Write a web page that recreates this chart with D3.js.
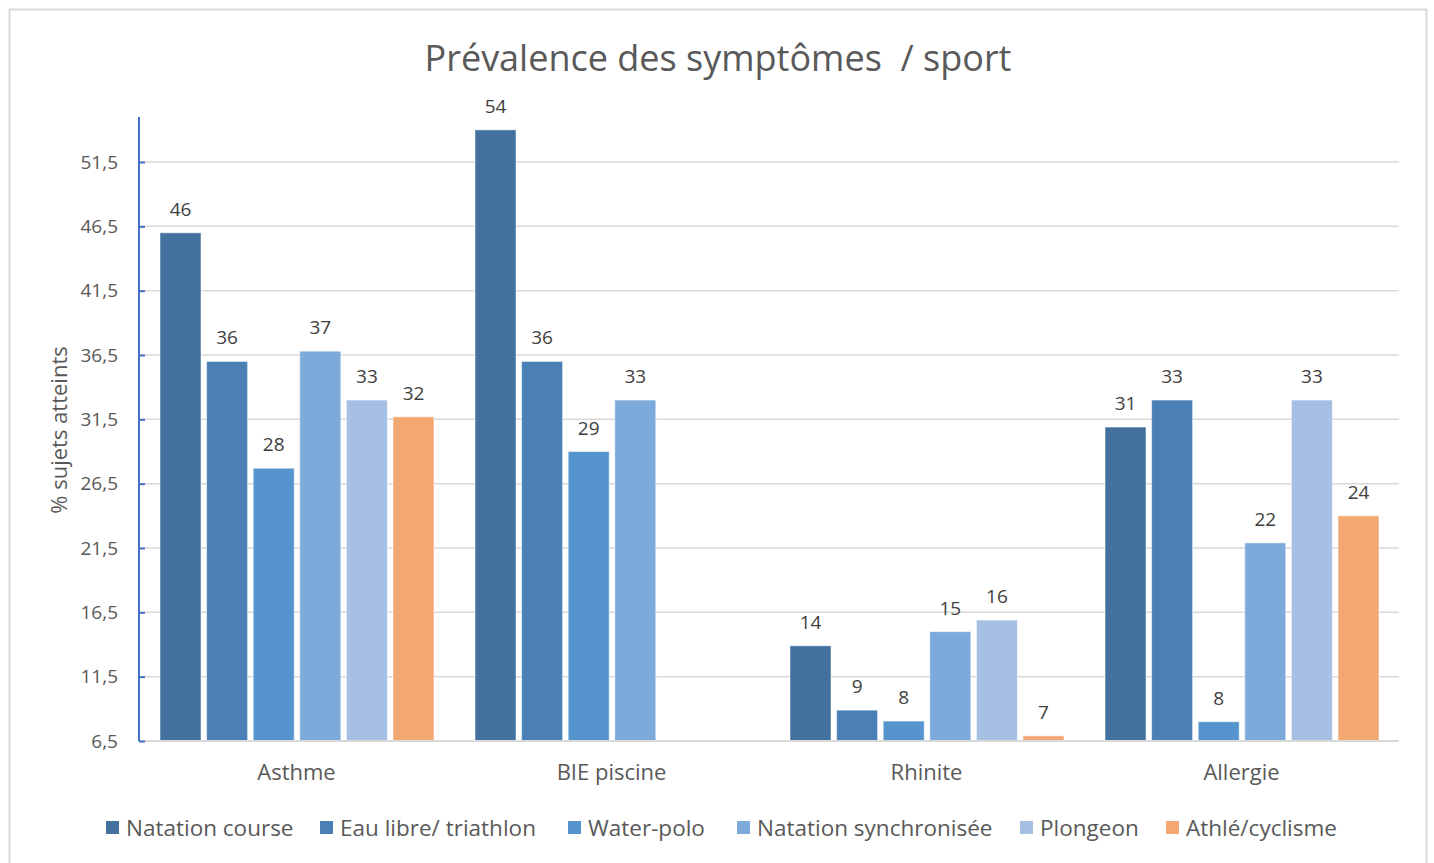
<!DOCTYPE html>
<html>
<head>
<meta charset="utf-8">
<script src="https://cdn.jsdelivr.net/npm/d3@7"></script>
<style>
  body { margin: 0; background: #fff; }
  text { font-family: "Open Sans", "Noto Sans", sans-serif; }
</style>
</head>
<body>
<div id="chart"></div>
<script>
// Categories and series
var categories = ["Asthme", "BIE piscine", "Rhinite", "Allergie"];
var series = ["Natation course", "Eau libre/ triathlon", "Water-polo", "Natation synchronisée", "Plongeon", "Athlé/cyclisme"];
var colors = ["#42719f", "#4a80b6", "#5594cd", "#7caadb", "#a6c0e4", "#f3a874"];

// values per series, in category order (null = no bar)
var natationCourse = [46, 54, 13.9, 30.9];
var eauLibre = [36, 36, 8.9, 33];
var waterPolo = [27.7, 29, 8.05, 8];
var natationSynchro = [36.8, 33, 15, 21.9];
var plongeon = [33, null, 15.9, 33];
var athle = [31.7, null, 6.9, 24];
var values = [natationCourse, eauLibre, waterPolo, natationSynchro, plongeon, athle];

var yTicks = [6.5, 11.5, 16.5, 21.5, 26.5, 31.5, 36.5, 41.5, 46.5, 51.5];

var W = 1434, H = 863;
var margin = { top: 117, right: 35, bottom: 122, left: 139 };
var width = W - margin.left - margin.right;
var height = H - margin.top - margin.bottom;

var svg = d3.select("#chart").append("svg")
  .attr("width", W)
  .attr("height", H);

// outer chart frame
svg.append("rect")
  .attr("x", 9.5).attr("y", 9.5)
  .attr("width", 1417).attr("height", 870)
  .attr("fill", "#fff")
  .attr("stroke", "#d9d9d9")
  .attr("stroke-width", 2);

svg.append("text")
  .attr("x", 718).attr("y", 71)
  .attr("text-anchor", "middle")
  .style("font-size", "36px")
  .style("fill", "#595959")
  .attr("xml:space", "preserve")
  .text("Prévalence des symptômes  / sport");

var g = svg.append("g")
  .attr("transform", "translate(" + margin.left + "," + margin.top + ")");

var x0 = d3.scaleBand().domain(categories).range([0, width]).padding(0);
var x1 = d3.scaleBand().domain(d3.range(series.length))
  .range([21, x0.bandwidth() - 20]).paddingInner(0.12).paddingOuter(0);
var y = d3.scaleLinear().domain([6.5, 55]).range([height, 0]);

// gridlines
g.append("g").selectAll("line")
  .data(yTicks.slice(1))
  .enter().append("line")
  .attr("x1", 0).attr("x2", width)
  .attr("y1", function (d) { return y(d); })
  .attr("y2", function (d) { return y(d); })
  .attr("stroke", "#d9d9d9")
  .attr("stroke-width", 1.5);

// bars
var groups = g.selectAll(".cat")
  .data(categories)
  .enter().append("g")
  .attr("class", "cat")
  .attr("transform", function (d) { return "translate(" + x0(d) + ",0)"; });

function cells(d, ci) {
  return values.map(function (s, si) { return { si: si, v: s[ci] }; })
    .filter(function (e) { return e.v !== null; });
}

groups.selectAll("rect")
  .data(cells)
  .enter().append("rect")
  .attr("x", function (d) { return x1(d.si); })
  .attr("y", function (d) { return y(d.v); })
  .attr("width", x1.bandwidth())
  .attr("height", function (d) { return height - y(d.v); })
  .attr("fill", function (d) { return colors[d.si]; })
  .attr("stroke", "#fff")
  .attr("stroke-opacity", 0.5)
  .attr("stroke-width", 1);

groups.selectAll(".lbl")
  .data(cells)
  .enter().append("text")
  .attr("class", "lbl")
  .attr("x", function (d) { return x1(d.si) + x1.bandwidth() / 2; })
  .attr("y", function (d) { return y(d.v) - 17; })
  .attr("text-anchor", "middle")
  .style("font-size", "19px")
  .style("fill", "#404040")
  .text(function (d) { return Math.round(d.v); });

// x axis (baseline)
g.append("line")
  .attr("x1", 0).attr("x2", width)
  .attr("y1", height).attr("y2", height)
  .attr("stroke", "#d9d9d9")
  .attr("stroke-width", 2);

g.selectAll(".xlab")
  .data(categories)
  .enter().append("text")
  .attr("class", "xlab")
  .attr("x", function (d) { return x0(d) + x0.bandwidth() / 2; })
  .attr("y", height + 39)
  .attr("text-anchor", "middle")
  .style("font-size", "22px")
  .style("fill", "#595959")
  .text(function (d) { return d; });

// y axis
var yAxis = g.append("g")
  .call(d3.axisLeft(y).tickValues(yTicks).tickSize(6).tickPadding(15)
    .tickFormat(function (d) { return String(d).replace(".", ","); }));
yAxis.select(".domain").attr("stroke", "#4472c4").attr("stroke-width", 2)
  .attr("d", "M0," + height + "V0");
yAxis.selectAll(".tick line").attr("stroke", "#4472c4").attr("stroke-width", 2)
  .attr("x1", 0).attr("x2", 6);
yAxis.selectAll(".tick text")
  .style("font-size", "19px")
  .style("fill", "#595959")
  .style("font-family", "'Open Sans', sans-serif");

g.append("text")
  .attr("transform", "rotate(-90)")
  .attr("x", -(430 - margin.top))
  .attr("y", -72)
  .attr("text-anchor", "middle")
  .style("font-size", "22px")
  .style("fill", "#595959")
  .text("% sujets atteints");

// legend
var legendX = [106, 320, 568, 737, 1020, 1166];
var legend = svg.append("g").selectAll("g")
  .data(series)
  .enter().append("g")
  .attr("transform", function (d, i) { return "translate(" + legendX[i] + ",821)"; });
legend.append("rect")
  .attr("width", 13).attr("height", 13)
  .attr("fill", function (d, i) { return colors[i]; });
legend.append("text")
  .attr("x", 20).attr("y", 15)
  .style("font-size", "22.5px")
  .style("fill", "#595959")
  .text(function (d) { return d; });
</script>
</body>
</html>
